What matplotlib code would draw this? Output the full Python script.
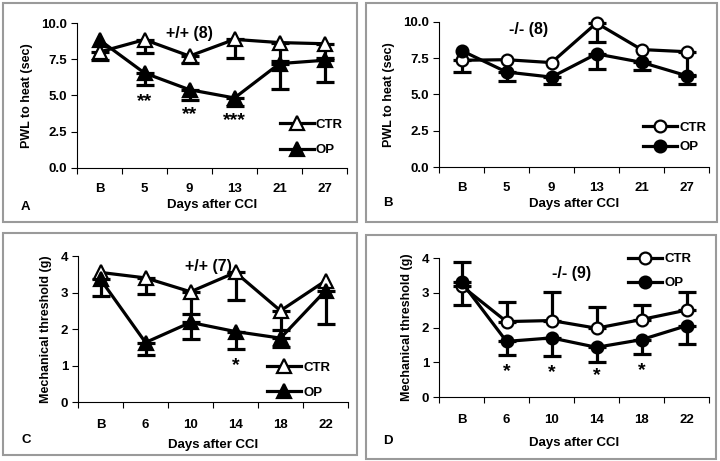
import matplotlib
matplotlib.use("Agg")
import matplotlib.pyplot as plt
from matplotlib.patches import Rectangle
import numpy as np

plt.rcParams['font.family'] = ['Liberation Sans', 'DejaVu Sans']
plt.rcParams['font.weight'] = 'bold'
plt.rcParams['axes.labelweight'] = 'bold'

# ---------------- data ----------------
heat_days = ["B", "5", "9", "13", "21", "27"]
mech_days = ["B", "6", "10", "14", "18", "22"]

A_ctr = [8.0, 8.85, 7.72, 8.87, 8.65, 8.57]
A_ctr_lo = [0.55, 0.9, 0.5, 1.3, 1.3, 1.0]
A_ctr_hi = [0, 0, 0, 0, 0, 0]
A_op = [8.83, 6.55, 5.4, 4.83, 7.2, 7.43]
A_op_lo = [0, 0.85, 0.73, 0.58, 1.73, 1.5]
A_op_hi = [0, 0, 0, 0, 0, 0]

B_ctr = [7.36, 7.4, 7.2, 9.93, 8.1, 7.95]
B_ctr_lo = [0.8, 0, 0, 1.3, 0, 1.6]
B_ctr_hi = [0, 0, 0, 0, 0, 0]
B_op = [8.03, 6.55, 6.2, 7.8, 7.22, 6.3]
B_op_lo = [0, 0.65, 0.45, 1.07, 0.55, 0.6]
B_op_hi = [0, 0, 0, 0, 0, 0]

C_ctr = [3.55, 3.4, 3.02, 3.55, 2.5, 3.32]
C_ctr_lo = [0, 0.45, 0.62, 0.75, 0.53, 0]
C_ctr_hi = [0, 0, 0, 0, 0, 0]
C_op = [3.36, 1.63, 2.18, 1.93, 1.75, 3.05]
C_op_lo = [0.45, 0.33, 0.46, 0.48, 0.25, 0.92]
C_op_hi = [0, 0, 0, 0, 0, 0]

D_ctr = [3.2, 2.17, 2.2, 1.98, 2.23, 2.5]
D_ctr_lo = [0.55, 0, 0, 0, 0, 0]
D_ctr_hi = [0, 0.55, 0.83, 0.62, 0.42, 0.53]
D_op = [3.31, 1.6, 1.7, 1.43, 1.65, 2.05]
D_op_lo = [0, 0.4, 0.52, 0.42, 0.42, 0.52]
D_op_hi = [0.57, 0, 0, 0, 0, 0]

A_stars = [(1, 4.6, "**"), (2, 3.7, "**"), (3, 3.25, "***")]
C_stars = [(3, 1.0, "*")]
D_stars = [(1, 0.72, "*"), (2, 0.69, "*"), (3, 0.62, "*"), (4, 0.76, "*")]

# ---------------- figure ----------------
W, H = 720, 461
fig = plt.figure(figsize=(W / 100, H / 100), dpi=100)

def px_axes(left, top, right, bottom):
    return fig.add_axes([left / W, 1 - bottom / H, (right - left) / W, (bottom - top) / H])

def border(x0, y0, x1, y1):
    fig.patches.append(Rectangle((x0 / W, 1 - y1 / H), (x1 - x0) / W, (y1 - y0) / H,
                                 transform=fig.transFigure, fill=False,
                                 edgecolor="#9a9a9a", lw=1.5))

def series(ax, y, lo, hi, marker, fill, label, ms):
    x = np.arange(len(y))
    y = np.asarray(y, float)
    lo = np.asarray(lo, float)
    hi = np.asarray(hi, float)
    m = (lo > 0) | (hi > 0)
    ax.errorbar(x[m], y[m], yerr=[lo[m], hi[m]], fmt="none", ecolor="black",
                elinewidth=2.3, capsize=6.5, capthick=2.3, zorder=2, clip_on=False)
    ax.plot(x, y, color="black", lw=2.3, marker=marker, ms=ms,
            mfc=fill, mec="black", mew=1.6, label=label, zorder=3, clip_on=False)

def style(ax, ylim, yticks, yfmt, cats, ylabel, xpad, xlabelpad):
    ax.set_xlim(-0.5, len(cats) - 0.5)
    ax.set_ylim(*ylim)
    ax.set_yticks(yticks)
    ax.set_yticklabels([yfmt.format(v) for v in yticks], fontsize=9.5, fontweight="bold")
    ax.set_xticks(np.arange(len(cats)))
    ax.set_xticklabels(cats, fontsize=9.5, fontweight="bold")
    ax.set_xticks(np.arange(len(cats) + 1) - 0.5, minor=True)
    ax.tick_params(axis="x", which="major", length=0, pad=xpad)
    ax.tick_params(axis="x", which="minor", length=4, width=0.8, direction="out")
    ax.tick_params(axis="y", length=4, width=0.8, direction="out", pad=3)
    for s in ["top", "right"]:
        ax.spines[s].set_visible(False)
    for s in ["left", "bottom"]:
        ax.spines[s].set_linewidth(0.8)
    ax.set_xlabel("Days after CCI", fontsize=9.5, fontweight="bold", labelpad=xlabelpad)
    ax.set_ylabel(ylabel, fontsize=9, fontweight="bold", labelpad=6)
    ax.patch.set_alpha(0)

def leg(ax, x, y, spacing):
    ax.legend(loc="center left", bbox_to_anchor=(x, y), frameon=False,
              handlelength=2.6, handletextpad=0.15, labelspacing=spacing,
              borderpad=0, borderaxespad=0, prop={"weight": "bold", "size": 9.5})

# borders
border(3, 3, 357, 222)
border(366, 3, 717, 222)
border(3, 233, 357, 455)
border(366, 235, 716, 459)

# Panel A
axA = px_axes(77, 23, 347, 168)
series(axA, A_ctr, A_ctr_lo, A_ctr_hi, "^", "white", "CTR", 9.5)
series(axA, A_op, A_op_lo, A_op_hi, "^", "black", "OP", 9.5)
style(axA, (0, 10), [0, 2.5, 5, 7.5, 10], "{:.1f}", heat_days, "PWL to heat (sec)", 11, 3)
axA.text(2, 9.25, "+/+ (8)", ha="center", va="center", fontsize=11.5, fontweight="bold")
for xs, ys, s in A_stars:
    axA.text(xs, ys, s, ha="center", va="center", fontsize=14, fontweight="bold")
leg(axA, 0.75, 0.21, 1.0)

# Panel B
axB = px_axes(439, 22, 709, 167)
series(axB, B_ctr, B_ctr_lo, B_ctr_hi, "o", "white", "CTR", 8.5)
series(axB, B_op, B_op_lo, B_op_hi, "o", "black", "OP", 8.5)
style(axB, (0, 10), [0, 2.5, 5, 7.5, 10], "{:.1f}", heat_days, "PWL to heat (sec)", 11, 3)
axB.text(1.5, 9.45, "-/- (8)", ha="center", va="center", fontsize=11.5, fontweight="bold")
leg(axB, 0.755, 0.205, 0.55)

# Panel C
axC = px_axes(78, 256, 348, 402)
series(axC, C_ctr, C_ctr_lo, C_ctr_hi, "^", "white", "CTR", 9.5)
series(axC, C_op, C_op_lo, C_op_hi, "^", "black", "OP", 9.5)
style(axC, (0, 4), [0, 1, 2, 3, 4], "{:d}", mech_days, "Mechanical threshold (g)", 12, 6)
axC.text(2.4, 3.7, "+/+ (7)", ha="center", va="center", fontsize=11.5, fontweight="bold")
for xs, ys, s in C_stars:
    axC.text(xs, ys, s, ha="center", va="center", fontsize=14, fontweight="bold")
leg(axC, 0.70, 0.15, 0.95)

# Panel D
axD = px_axes(439, 258, 709, 397)
series(axD, D_ctr, D_ctr_lo, D_ctr_hi, "o", "white", "CTR", 8.5)
series(axD, D_op, D_op_lo, D_op_hi, "o", "black", "OP", 8.5)
style(axD, (0, 4), [0, 1, 2, 3, 4], "{:d}", mech_days, "Mechanical threshold (g)", 12, 8)
axD.text(2.45, 3.55, "-/- (9)", ha="center", va="center", fontsize=11.5, fontweight="bold")
for xs, ys, s in D_stars:
    axD.text(xs, ys, s, ha="center", va="center", fontsize=14, fontweight="bold")
leg(axD, 0.70, 0.905, 0.9)

# panel letters
for lbl, xp, yp in [("A", 25, 207), ("B", 388, 203), ("C", 26, 440), ("D", 388, 441)]:
    fig.text(xp / W, 1 - yp / H, lbl, ha="center", va="center", fontsize=9.5, fontweight="bold")

fig.savefig("out.png", dpi=100)
